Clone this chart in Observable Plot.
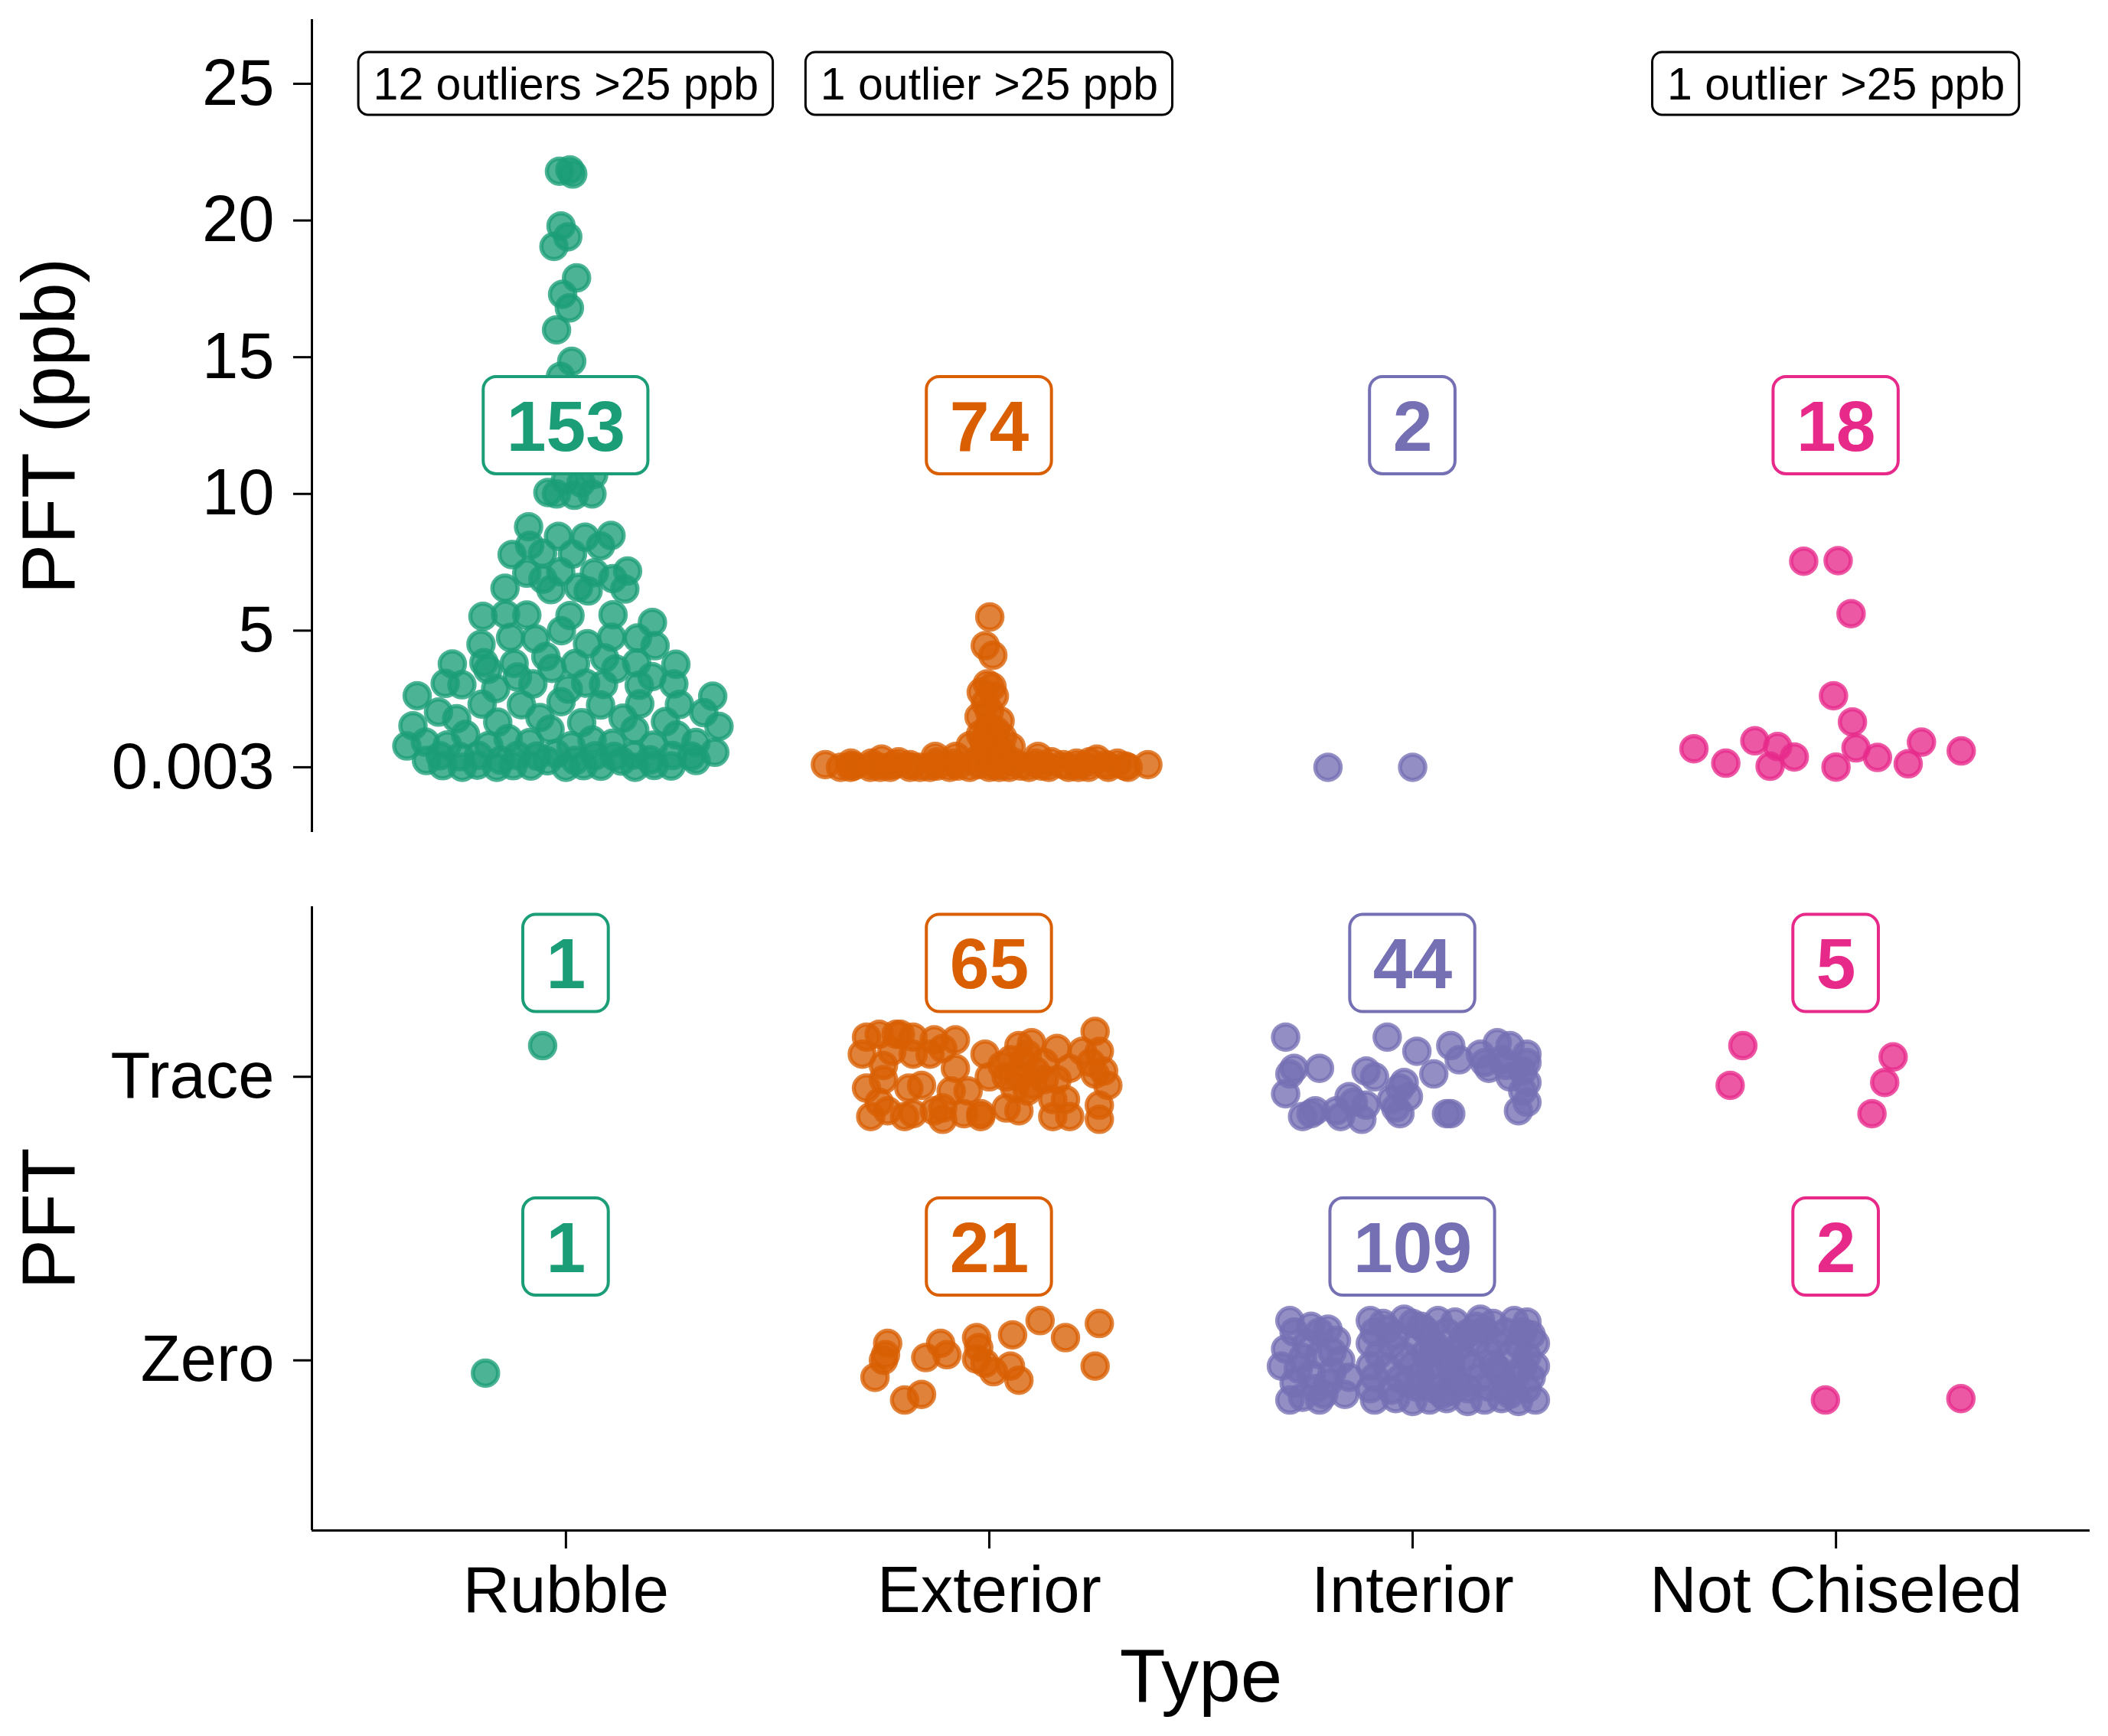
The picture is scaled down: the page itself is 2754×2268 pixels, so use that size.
<!DOCTYPE html>
<html>
<head>
<meta charset="utf-8">
<script src="https://cdn.jsdelivr.net/npm/d3@7"></script>
<script src="https://cdn.jsdelivr.net/npm/@observablehq/plot@0.6"></script>
<style>
  html, body { margin: 0; padding: 0; background: #fff; overflow: hidden; }
  #chart { position: relative; width: 2754px; height: 2268px; background: #fff; }
  #chart svg { position: absolute; left: 0; max-width: none !important; }
</style>
</head>
<body>
<div id="chart"></div>
<script>
// ---------- data ----------
const types = ["Rubble", "Exterior", "Interior", "Not Chiseled"];
const typeColors = ["#1B9E77", "#D95F02", "#7570B3", "#E7298A"];
const pftLevels = ["Zero", "Trace"];
const ppbTicks = [0.003, 5, 10, 15, 20, 25];
const ppbCounts = [153, 74, 2, 18];
const traceCounts = [1, 65, 44, 5];
const zeroCounts = [1, 21, 109, 2];
const outlierTypes = ["Rubble", "Exterior", "Not Chiseled"];
const outlierCounts = [12, 1, 1];
const outlierThreshold = 25;

// PFT concentrations (ppb) drawn in the upper panel (values <= 25 ppb)
const rubblePpb = [
  21.7, 21.8, 21.85, 19.8, 19.4, 19.05, 17.9, 17.3, 16.8, 16.0, 14.85, 14.3, 13.2, 11.6,
  10.7, 10.5, 10.4, 10.05, 10.0, 10.0, 9.95,
  8.8, 8.45, 8.42, 8.48, 8.1, 8.12, 7.8, 7.78, 7.83, 7.15, 7.12, 7.18, 7.1, 6.9, 6.88, 6.55, 6.52, 6.58, 6.5, 6.45,
  5.57, 5.55, 5.6, 5.52, 5.58, 5.3, 5.0, 4.73, 4.7, 4.76, 4.75, 4.5, 4.52, 4.45,
  3.8, 3.78, 3.82, 3.8, 3.77, 3.83, 3.6, 3.62, 3.58,
  3.05, 3.02, 3.08, 3.05, 3.03, 3.07, 3.0, 2.86, 2.88,
  2.4, 2.3, 2.28, 2.32, 2.31, 2.29, 2.0, 2.02,
  1.8, 1.78, 1.82, 1.65, 1.63, 1.67, 1.37, 1.39, 1.18, 1.2,
  0.9, 0.88, 0.92, 0.91, 0.8, 0.78, 0.82, 0.79, 0.81,
  0.42, 0.4, 0.44, 0.41, 0.43, 0.42, 0.39, 0.45, 0.41, 0.43,
  0.25, 0.24, 0.26, 0.25, 0.23, 0.27, 0.25,
  0.06, 0.05, 0.07, 0.06, 0.04, 0.08, 0.06, 0.05,
  0.003, 0.003, 0.003, 0.003, 0.5, 0.55, 1.0, 1.05, 1.5, 1.52, 2.6, 2.62, 3.3, 3.32, 4.0, 4.05
];
const exteriorPpb = [
  5.5, 4.45, 4.1, 3.05, 2.95, 2.75, 2.6, 2.35, 2.05, 1.85, 1.7, 1.5, 1.35, 1.2, 1.1, 1.0, 0.9, 0.8, 0.75, 0.7, 0.6,
  0.003, 0.003, 0.003, 0.003, 0.003, 0.003, 0.003, 0.003, 0.003, 0.003,
  0.003, 0.003, 0.003, 0.003, 0.003, 0.003, 0.003, 0.003, 0.003, 0.003,
  0.05, 0.05, 0.05, 0.05, 0.05, 0.05,
  0.1, 0.1, 0.1, 0.1, 0.1, 0.1, 0.1, 0.1,
  0.15, 0.15, 0.15, 0.15, 0.15, 0.15,
  0.2, 0.2, 0.2, 0.2, 0.2,
  0.3, 0.3, 0.3, 0.3,
  0.4, 0.4, 0.4
];
const interiorPpb = [0.003, 0.003];
const notChiseledPpb = [7.54, 7.56, 5.62, 2.62, 1.66, 0.68, 0.15, 0.97, 0.76, 0.04, 0.38, 0.01, 0.71, 0.36, 0.92, 0.13, 0.6];

// lower panel: jitter, [type offset, level offset]
const rubbleTraceJitter = [[-0.055, 0.11]];
const rubbleZeroJitter = [[-0.19, -0.045]];
const exteriorTraceJitter = [
  [-0.29,0.14],[-0.26,0.15],[-0.22,0.15],[-0.21,0.15],[-0.18,0.14],[-0.13,0.13],[-0.08,0.13],[0.25,0.16],
  [-0.30,0.08],[-0.18,0.08],[-0.11,0.10],[-0.01,0.08],[0.07,0.11],[0.10,0.12],[0.16,0.10],[0.22,0.09],[0.26,0.09],
  [-0.25,0.04],[-0.08,0.03],[0.08,0.05],[0.13,0.05],[0.19,0.03],[0.27,0.02],
  [-0.29,-0.04],[-0.25,-0.01],[-0.19,-0.04],[-0.16,-0.03],[-0.09,-0.05],[0.00,0.00],[0.04,0.00],[0.07,0.00],[0.10,-0.03],[0.16,-0.01],[0.28,-0.03],[0.11,0.02],
  [-0.24,-0.12],[-0.18,-0.13],[-0.11,-0.11],[-0.02,-0.13],[0.04,-0.11],[0.07,-0.12],[0.18,-0.08],[0.26,-0.10],[-0.26,-0.09],
  [-0.28,-0.14],[-0.20,-0.14],[-0.11,-0.15],[-0.06,-0.13],[-0.02,-0.14],[0.15,-0.14],[0.19,-0.14],[0.26,-0.15],[-0.13,-0.12],
  [0.05,0.06],[0.09,0.08],[0.09,-0.05],[0.06,-0.04],[0.13,-0.01],[0.03,0.04],[0.24,0.05],[0.25,0.01],[-0.23,0.09],[-0.14,0.08],[-0.05,-0.05],[0.15,-0.08]
];
const exteriorZeroJitter = [
  [-0.24,0.06],[-0.245,0.02],[-0.25,0.00],[-0.27,-0.06],[-0.20,-0.14],[-0.16,-0.12],[-0.15,0.01],
  [-0.115,0.06],[-0.10,0.02],[-0.03,0.08],[-0.025,0.045],[-0.03,0.005],[0.01,-0.04],[0.055,0.09],
  [0.05,-0.02],[0.07,-0.07],[0.12,0.14],[0.18,0.08],[0.26,0.13],[0.25,-0.02],[-0.01,-0.01]
];
const interiorTraceJitter = [
  [-0.30,0.14],[-0.06,0.14],[0.01,0.09],[0.09,0.11],[0.11,0.06],[0.16,0.08],[0.20,0.12],[0.23,0.11],[0.27,0.08],
  [-0.28,0.03],[-0.22,0.03],[-0.11,0.02],[-0.09,0.00],[-0.29,0.01],[-0.30,-0.06],[-0.02,-0.02],[-0.03,-0.04],
  [0.05,0.01],[0.18,0.03],[0.27,0.05],[0.27,-0.02],[0.23,0.00],[0.21,0.06],[0.26,0.02],
  [-0.26,-0.14],[-0.23,-0.12],[-0.18,-0.12],[-0.15,-0.07],[-0.12,-0.15],[-0.11,-0.10],[-0.04,-0.11],[-0.03,-0.13],
  [-0.01,-0.07],[0.09,-0.13],[0.25,-0.12],[0.27,-0.09],[0.26,-0.05],[-0.24,-0.13],[-0.17,-0.14],[-0.14,-0.09],
  [-0.05,-0.08],[0.17,0.05],[0.22,0.04],[0.08,-0.13]
];
const interiorZeroJitter = [
  [-0.29,0.14],[-0.28,0.10],[-0.30,0.04],[-0.27,-0.03],[-0.28,-0.08],[-0.29,-0.14],[-0.22,0.10],[-0.20,0.11],
  [-0.22,0.02],[-0.19,-0.04],[-0.21,-0.12],[-0.16,-0.12],[-0.24,-0.05],[-0.23,-0.10],[-0.25,0.06],[-0.18,0.07],
  [-0.26,-0.13],[-0.17,0.00],[-0.20,-0.08],[-0.15,-0.06],[-0.31,-0.02],[-0.24,0.12],[-0.26,0.01],[-0.19,0.03],[-0.22,-0.14],
  [-0.10,0.14],[-0.07,0.13],[-0.02,0.145],[0.00,0.13],[0.06,0.14],[0.10,0.135],[0.16,0.145],[0.19,0.13],[0.24,0.14],[0.27,0.135],
  [-0.09,0.10],[-0.04,0.09],[0.03,0.105],[0.08,0.10],[0.13,0.095],[0.17,0.105],[0.22,0.10],[0.28,0.09],[-0.06,0.11],
  [-0.10,0.06],[-0.05,0.055],[0.01,0.065],[0.05,0.06],[0.11,0.05],[0.15,0.065],[0.20,0.06],[0.25,0.055],[0.29,0.06],
  [-0.08,0.02],[-0.02,0.015],[0.03,0.025],[0.07,0.02],[0.12,0.01],[0.18,0.025],[0.23,0.02],[0.27,0.015],
  [-0.10,-0.02],[-0.06,-0.025],[0.00,-0.015],[0.04,-0.02],[0.09,-0.03],[0.14,-0.02],[0.19,-0.015],[0.26,-0.025],[0.29,-0.02],
  [-0.09,-0.06],[-0.03,-0.065],[0.02,-0.055],[0.06,-0.06],[0.10,-0.07],[0.16,-0.06],[0.21,-0.055],[0.24,-0.065],[0.28,-0.06],
  [-0.10,-0.10],[-0.05,-0.105],[0.01,-0.095],[0.05,-0.10],[0.09,-0.11],[0.13,-0.10],[0.18,-0.095],[0.22,-0.105],[0.27,-0.10],
  [-0.09,-0.14],[-0.04,-0.135],[0.00,-0.145],[0.04,-0.14],[0.08,-0.135],[0.13,-0.145],[0.17,-0.14],[0.21,-0.135],[0.25,-0.145],[0.29,-0.14],
  [0.02,0.12],[0.07,-0.12],[0.12,0.08],[-0.01,-0.08],[0.20,-0.03],[0.15,0.12],[0.05,0.04],[0.23,-0.12],[0.09,0.00],[0.11,-0.09],[0.26,0.10]
];
const notChiseledTraceJitter = [[-0.22,0.11],[-0.25,-0.03],[0.135,0.07],[0.115,-0.02],[0.085,-0.13]];
const notChiseledZeroJitter = [[-0.025,-0.14],[0.295,-0.135]];

// ---------- helpers ----------
const FONT = '"Liberation Sans", Arial, Helvetica, sans-serif';
const W = 2754;
const ctx = document.createElement("canvas").getContext("2d");
function textWidth(s, font) { ctx.font = font; return ctx.measureText(s).width; }

// van der Corput sequence (base 2) and quasirandom offsets (as in ggbeeswarm / vipor)
function vdc(k) { let v = 0, b = 0.5; while (k > 0) { if (k & 1) v += b; k >>= 1; b /= 2; } return v; }
function bwNrd0(x) {
  const s = [...x].sort((a, b) => a - b);
  const sd = x.length > 1 ? d3.deviation(x) : 0;
  const iqr = d3.quantileSorted(s, 0.75) - d3.quantileSorted(s, 0.25);
  let lo = Math.min(sd, iqr / 1.34);
  if (!lo) lo = sd || Math.abs(x[0]) || 1;
  return 0.9 * lo * Math.pow(x.length, -0.2);
}
function quasirandom(values, width) {
  const n = values.length;
  if (n < 2) return values.map(() => 0);
  const bw = bwNrd0(values);
  const k = v => d3.sum(values, yi => Math.exp(-0.5 * ((v - yi) / bw) ** 2));
  const lo = d3.min(values) - 3 * bw, hi = d3.max(values) + 3 * bw;
  const dens = values.map(k);
  const maxD = Math.max(d3.max(d3.range(1024), i => k(lo + (hi - lo) * i / 1023)), d3.max(dens));
  const order = d3.range(n).sort((a, b) => values[a] - values[b] || a - b);
  const rank = new Array(n);
  order.forEach((idx, r) => { rank[idx] = r + 1; });
  return values.map((v, i) => (vdc(rank[i]) - 0.5) * 2 * (dens[i] / maxD) * width);
}

function boxedLabels(rows, o) {
  return rows.flatMap(d => {
    const w = textWidth(d.text, `${o.fontWeight} ${o.fontSize}px "Liberation Sans"`) + 2 * o.padX;
    return [
      Plot.rect([d], {
        x1: "pos", x2: "pos", y1: "y", y2: "y",
        insetLeft: -w / 2, insetRight: -w / 2, insetTop: -o.boxH / 2, insetBottom: -o.boxH / 2,
        rx: o.rx, ry: o.rx, fill: "white", stroke: d.color, strokeWidth: o.strokeWidth
      }),
      Plot.text([d], {
        x: "pos", y: "y", text: "text", fill: d.color,
        fontSize: o.fontSize, fontWeight: o.fontWeight, dy: o.dy
      })
    ];
  });
}

// ---------- derived tables ----------
const ppbByType = [rubblePpb, exteriorPpb, interiorPpb, notChiseledPpb];
const topPoints = ppbByType.flatMap((vals, i) => {
  const off = quasirandom(vals, 0.4);
  return vals.map((v, j) => ({ type: types[i], pos: i + off[j], ppb: v }));
});

const jitterByType = [
  [rubbleZeroJitter, rubbleTraceJitter],
  [exteriorZeroJitter, exteriorTraceJitter],
  [interiorZeroJitter, interiorTraceJitter],
  [notChiseledZeroJitter, notChiseledTraceJitter]
];
const bottomPoints = jitterByType.flatMap((levels, i) =>
  levels.flatMap((jit, level) => jit.map(([dx, dy]) => ({ type: types[i], pos: i + dx, lvl: level + dy })))
);

const countLabelsTop = types.map((t, i) => ({ pos: i, y: 12.5, text: String(ppbCounts[i]), color: typeColors[i] }));
const outlierLabels = outlierTypes.map((t, k) => ({
  pos: types.indexOf(t), y: outlierThreshold,
  text: `${outlierCounts[k]} outlier${outlierCounts[k] > 1 ? "s" : ""} >${outlierThreshold} ppb`, color: "black"
}));
const countLabelsBottom = [
  ...types.map((t, i) => ({ pos: i, y: 1.4, text: String(traceCounts[i]), color: typeColors[i] })),
  ...types.map((t, i) => ({ pos: i, y: 0.4, text: String(zeroCounts[i]), color: typeColors[i] }))
];

const countStyle = { fontSize: 93, fontWeight: "bold", padX: 30, boxH: 127, rx: 17, strokeWidth: 4, dy: 3 };
const outlierStyle = { fontSize: 59, fontWeight: "normal", padX: 19, boxH: 82, rx: 13, strokeWidth: 3, dy: 2 };
const dotStyle = { r: 16.5, fill: "type", stroke: "type", fillOpacity: 0.78, strokeOpacity: 0.78, strokeWidth: 5.5 };
const common = {
  width: W, marginLeft: 407, marginRight: 24,
  style: { fontFamily: FONT, background: "white", color: "black", overflow: "visible" },
  color: { domain: types, range: typeColors }
};

// ---------- upper panel ----------
const topChart = Plot.plot({
  ...common,
  height: 1120, marginTop: 25, marginBottom: 33,
  x: { domain: [-0.6, 3.6], axis: null },
  y: { domain: [-2.38, 27.35] },
  marks: [
    Plot.ruleX([-0.6], { stroke: "black", strokeWidth: 3 }),
    Plot.axisY(ppbTicks, { tickSize: 24, tickPadding: 25, fontSize: 85, strokeWidth: 3, tickFormat: d => `${d}`, label: null }),
    Plot.dot(topPoints, { x: "pos", y: "ppb", ...dotStyle }),
    ...boxedLabels(countLabelsTop, countStyle),
    ...boxedLabels(outlierLabels, outlierStyle),
    Plot.text(["PFT (ppb)"], { frameAnchor: "left", textAnchor: "middle", lineAnchor: "middle", rotate: -90, dx: -342, fontSize: 98, fill: "black" })
  ]
});

// ---------- lower panel ----------
const bottomChart = Plot.plot({
  ...common,
  height: 1148, marginTop: 64, marginBottom: 269,
  x: { domain: [-0.6, 3.6] },
  y: { domain: [-0.6, 1.6] },
  marks: [
    Plot.ruleX([-0.6], { stroke: "black", strokeWidth: 3 }),
    Plot.ruleY([-0.6], { stroke: "black", strokeWidth: 3 }),
    Plot.axisY([0, 1], { tickSize: 24, tickPadding: 25, fontSize: 85, strokeWidth: 3, tickFormat: d => pftLevels[d], label: null }),
    Plot.axisX([0, 1, 2, 3], { tickSize: 24, tickPadding: 22, fontSize: 85, strokeWidth: 3, tickFormat: d => types[d], label: null }),
    Plot.dot(bottomPoints, { x: "pos", y: "lvl", ...dotStyle }),
    ...boxedLabels(countLabelsBottom, countStyle),
    Plot.text(["PFT"], { frameAnchor: "left", textAnchor: "middle", lineAnchor: "middle", rotate: -90, dx: -342, fontSize: 98, fill: "black" }),
    Plot.text(["Type"], { frameAnchor: "bottom", textAnchor: "middle", lineAnchor: "top", dy: 154, fontSize: 98, fill: "black" })
  ]
});

const chart = document.getElementById("chart");
topChart.style.top = "0px";
bottomChart.style.top = "1120px";
chart.appendChild(topChart);
chart.appendChild(bottomChart);
</script>
</body>
</html>
